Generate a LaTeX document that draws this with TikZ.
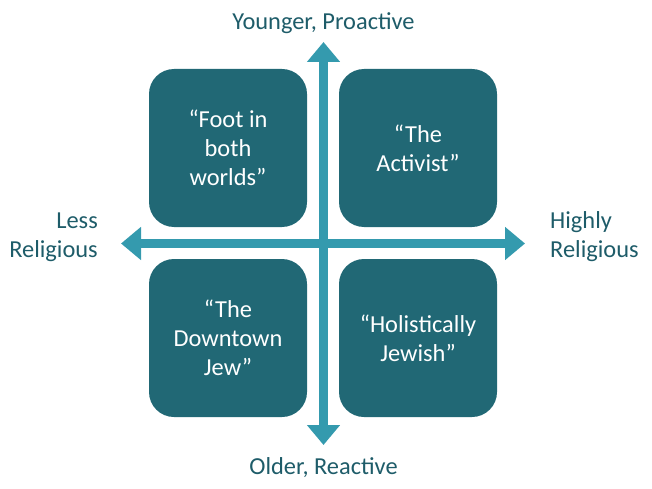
\documentclass[tikz,border=0pt]{standalone}
\usepackage{fontspec}
\setmainfont{Carlito}
\usetikzlibrary{arrows.meta}
\definecolor{boxteal}{RGB}{33,104,117}
\definecolor{axisteal}{RGB}{52,154,174}
\definecolor{labelteal}{RGB}{30,92,105}
\begin{document}
\begin{tikzpicture}[x=1pt,y=-1pt,
  quad/.style={draw=none, fill=boxteal, rounded corners=25pt, minimum width=158pt, minimum height=158pt, text=white, align=center, font=\fontsize{24.4}{29}\selectfont, inner sep=0pt},
  axislabel/.style={text=labelteal, font=\fontsize{24.4}{29}\selectfont, inner sep=0pt},
  axis/.style={draw=axisteal, line width=9pt, {Triangle[length=20pt,width=32pt]}-{Triangle[length=20pt,width=32pt]}}]
\useasboundingbox (0,0) rectangle (652,489);
% axes
\coordinate (L) at (121,243.5);
\coordinate (R) at (525,243.5);
\coordinate (T) at (323.5,42);
\coordinate (B) at (323.5,445);
\draw[axis] (L) -- (R);
\draw[axis] (T) -- (B);
% quadrants
\node[quad] (tl) at (228,148) {“Foot in\\both\\worlds”};
\node[quad] (tr) at (418,148) {“The\\Activist”};
\node[quad] (bl) at (228,338) {“The\\Downtown\\Jew”};
\node[quad] (br) at (418,338) {“Holistically\\Jewish”};
% axis labels
\node[axislabel, anchor=base] (top) at (323.5,30) {Younger, Proactive};
\node[axislabel, anchor=base] (bot) at (323.5,474) {Older, Reactive};
\node[axislabel, anchor=base east, align=right] (left) at (98,257) {Less\\Religious};
\node[axislabel, anchor=base west, align=left] (right) at (550,257) {Highly\\Religious};
\end{tikzpicture}
\end{document}
